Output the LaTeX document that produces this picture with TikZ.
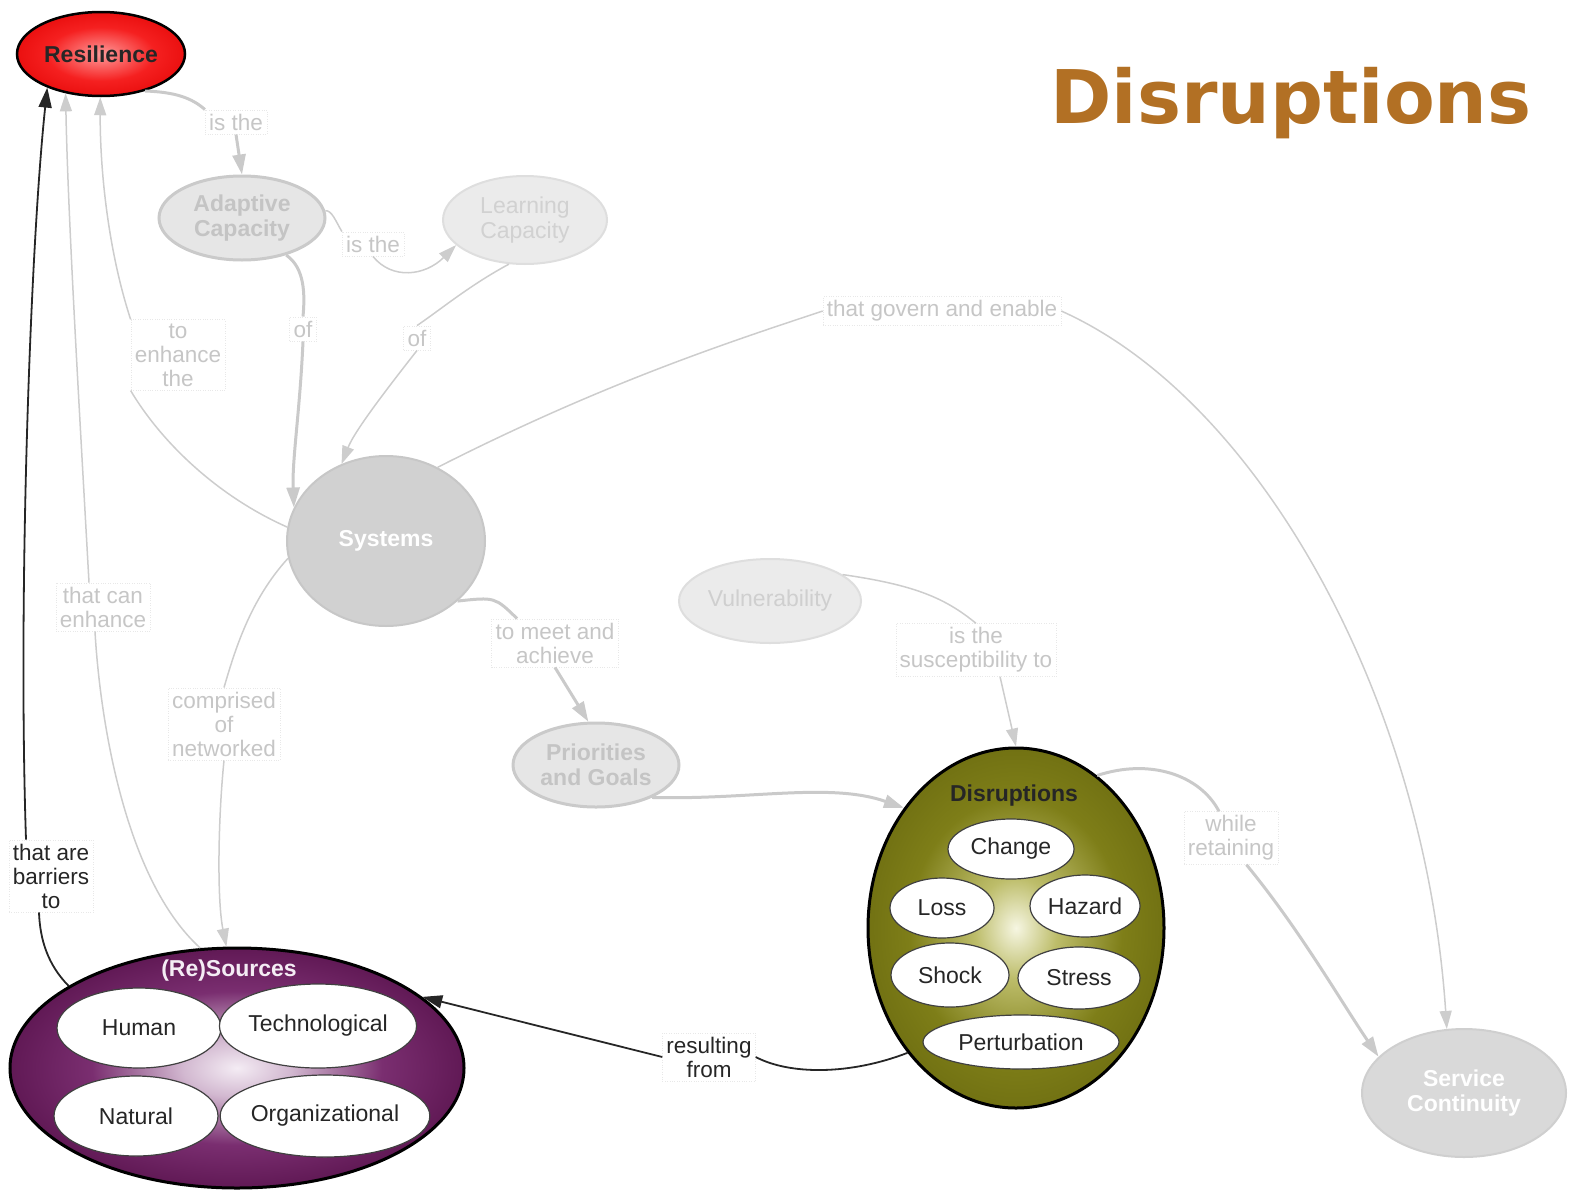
\documentclass[tikz,border=0pt]{standalone}
\usepackage{fontspec}
\setmainfont{Liberation Sans}
\newfontfamily\titlefont{DejaVu Sans}
\usetikzlibrary{arrows.meta,shapes.geometric}

\definecolor{linkgrey}{HTML}{C6C6C6}
\definecolor{linkline}{HTML}{CDCDCD}
\definecolor{ghostfill}{HTML}{E6E6E6}
\definecolor{ghostedge}{HTML}{CACACA}
\definecolor{ghosttext}{HTML}{C4C4C4}
\definecolor{titlecol}{HTML}{B27024}
% olive tones
\definecolor{oliveA}{HTML}{F6F6E2}
\definecolor{oliveB}{HTML}{BDBD6A}
\definecolor{oliveC}{HTML}{7E7E18}
\definecolor{oliveD}{HTML}{62620C}
\definecolor{oliveE}{HTML}{3C3C04}
% plum tones
\definecolor{plumA}{HTML}{F4ECF4}
\definecolor{plumB}{HTML}{D2B8D0}
\definecolor{plumC}{HTML}{7A2E70}
\definecolor{plumD}{HTML}{58124C}
\definecolor{plumE}{HTML}{4A0A40}
\definecolor{plumF}{HTML}{2C0426}
% red tones
\definecolor{redA}{HTML}{FF9A9A}
\definecolor{redB}{HTML}{F52020}
\definecolor{redC}{HTML}{E00000}
\definecolor{redD}{HTML}{8A0000}

% radial fills for the three highlighted concepts
\pgfdeclareradialshading{redglow}{\pgfpoint{0bp}{0bp}}{%
  color(0bp)=(redA); color(16bp)=(redB); color(34bp)=(redC);
  color(45bp)=(redC); color(50bp)=(redD)}
\pgfdeclareradialshading{oliveglow}{\pgfpoint{0bp}{0bp}}{%
  color(0bp)=(oliveA); color(7bp)=(oliveB); color(18bp)=(oliveC);
  color(34bp)=(oliveD); color(46bp)=(oliveD); color(50bp)=(oliveE)}
\pgfdeclareradialshading{plumglow}{\pgfpoint{0bp}{0bp}}{%
  color(0bp)=(plumA); color(6bp)=(plumB); color(16bp)=(plumC);
  color(28bp)=(plumD); color(44bp)=(plumE); color(50bp)=(plumF)}
\pgfdeclareradialshading{whiteoval}{\pgfpoint{0bp}{0bp}}{%
  color(0bp)=(white); color(34bp)=(white); color(50bp)=(black!12)}

\tikzset{
  concept/.style={ellipse, inner sep=0pt, align=center,
    font=\fontsize{23}{25}\selectfont\bfseries},
  ghost/.style={concept, fill=ghostfill, draw=ghostedge, line width=2pt, text=ghosttext},
  member/.style={ellipse, inner sep=0pt, draw=black!75, line width=1.2pt,
    shading=whiteoval, text=black!85, font=\fontsize{23}{25}\selectfont},
  linkbox/.style={draw=black!9, dotted, fill=white, inner sep=4pt, align=center,
    text=linkgrey, font=\fontsize{22.5}{24}\selectfont},
  darkbox/.style={linkbox, text=black!85},
  glink/.style={draw=linkline, line width=1.5pt},
  garrow/.style={glink, -{Triangle[length=18pt,width=12pt]}},
  thicklink/.style={draw=ghostedge, line width=3pt},
  thickarrow/.style={thicklink, -{Triangle[length=20pt,width=13pt]}},
  blink/.style={draw=black!85, line width=1.8pt},
  barrow/.style={blink, -{Triangle[length=20pt,width=13pt]}}
}

\begin{document}
\begin{tikzpicture}[x=1pt,y=-1pt]
\useasboundingbox (0,0) rectangle (1573,1194);

% title
\node[font=\titlefont\bfseries\fontsize{74}{80}\selectfont, text=titlecol] (title) at (1291,103) {Disruptions};

% concepts
\node[concept, minimum width=168, minimum height=84, shading=redglow, draw=black, line width=2.5pt, text=black!85] (res) at (101,54) {Resilience};
\node[ghost, minimum width=166, minimum height=84, line width=3pt] (ada) at (242,218) {Adaptive\\Capacity};
\node[ghost, minimum width=164, minimum height=88, fill=black!8, draw=black!13, text=black!18, font=\fontsize{23}{25}\selectfont] (lea) at (525,220) {Learning\\Capacity};
\node[ghost, minimum width=198, minimum height=170, fill=black!18, draw=black!22, text=white] (sys) at (386,541) {Systems};
\node[ghost, minimum width=182, minimum height=84, fill=black!8, draw=black!13, text=black!19, font=\fontsize{23}{25}\selectfont] (vul) at (770,601) {Vulnerability};
\node[ghost, minimum width=166, minimum height=84, line width=3pt] (pri) at (596,765) {Priorities\\and Goals};
\node[ghost, minimum width=204, minimum height=128, fill=black!15, draw=black!19, text=white] (svc) at (1464,1093) {Service\\Continuity};

% disruptions group
\node[concept, minimum width=296, minimum height=360, shading=oliveglow, draw=black, line width=3pt] (dis) at (1016,928) {};
\node[font=\fontsize{23}{25}\selectfont\bfseries, text=black!85] (distitle) at (1014,796) {Disruptions};
\node[member, minimum width=126, minimum height=60] (chg) at (1011,849) {Change};
\node[member, minimum width=104, minimum height=60] (los) at (942,908) {Loss};
\node[member, minimum width=110, minimum height=62] (haz) at (1085,906) {Hazard};
\node[member, minimum width=118, minimum height=64] (sho) at (950,975) {Shock};
\node[member, minimum width=122, minimum height=62] (str) at (1079,978) {Stress};
\node[member, minimum width=196, minimum height=54] (per) at (1021,1042) {Perturbation};

% resources group
\node[concept, minimum width=454, minimum height=240, shading=plumglow, draw=black, line width=3pt] (rsc) at (237,1068) {};
\node[font=\fontsize{23}{25}\selectfont\bfseries, text=plumA] (rsctitle) at (229,971) {(Re)Sources};
\node[member, minimum width=164, minimum height=80] (hum) at (139,1028) {Human};
\node[member, minimum width=186, minimum height=84] (tec) at (318,1026) {Technological};
\node[member, minimum width=164, minimum height=80] (nat) at (136,1116) {Natural};
\node[member, minimum width=196, minimum height=82] (org) at (325,1116) {Organizational};

% linking phrases
\node[linkbox] (l1) at (236,122) {is the};
\node[linkbox] (l2) at (373,244) {is the};
\node[linkbox] (l3) at (303,329) {of};
\node[linkbox] (l4) at (417,338) {of};
\node[linkbox] (l5) at (178,355) {to\\enhance\\the};
\node[linkbox] (l6) at (942,311) {that govern and enable};
\node[linkbox] (l7) at (103,607) {that can\\enhance};
\node[linkbox] (l8) at (224,724) {comprised\\of\\networked};
\node[linkbox] (l9) at (555,643) {to meet and\\achieve};
\node[linkbox] (l10) at (976,650) {is the\\susceptibility to};
\node[linkbox] (l11) at (1231,838) {while\\retaining};
\node[darkbox] (l12) at (51,876) {that are\\barriers\\to};
\node[darkbox] (l13) at (709,1057) {resulting\\from};

% Resilience -> Adaptive Capacity
\draw[thicklink] (res.-40) .. controls (175,92) and (192,98) .. (l1.north west);
\draw[thickarrow] (l1.south) -- (ada.north);
% Adaptive Capacity -> Learning Capacity
\draw[glink] (ada.5) .. controls (332,210) and (336,222) .. (l2.north west);
\draw[garrow] (l2.south) .. controls (392,280) and (425,276) .. (lea.200);
% capacities -> Systems
\draw[thicklink] (ada.-40) .. controls (305,268) and (305,295) .. (l3.north);
\draw[thickarrow] (l3.south) .. controls (300,410) and (292,460) .. (sys.160);
\draw[glink] (lea.-110) .. controls (470,285) and (440,310) .. (l4.north);
\draw[garrow] (l4.south) .. controls (390,385) and (355,430) .. (sys.120);
% Systems -> Resilience
\draw[glink] (sys.172) .. controls (215,495) and (160,440) .. (l5.south west);
\draw[garrow] (l5.north west) .. controls (108,250) and (100,170) .. (res.-91);
% Systems -> Service Continuity
\draw[glink] (sys.55) .. controls (600,385) and (720,345) .. (l6.west);
\draw[garrow] (l6.east) .. controls (1260,400) and (1425,700) .. (svc.105);
% Systems -> Priorities and Goals
\draw[thicklink] (sys.-40) .. controls (495,597) .. ([xshift=-38pt]l9.north);
\draw[thickarrow] (l9.south) -- (pri.100);
% Systems -> (Re)Sources
\draw[glink] (sys.190) .. controls (250,600) and (235,650) .. (l8.north);
\draw[garrow] (l8.south) .. controls (218,820) and (217,900) .. (rsc.95);
% (Re)Sources -> Resilience
\draw[glink] (rsc.107) .. controls (125,880) and (100,720) .. ([xshift=-8pt]l7.south);
\draw[garrow] ([xshift=-14pt]l7.north) .. controls (80,420) and (68,220) .. (res.-132);
\draw[blink] (rsc.154) .. controls (48,965) and (40,940) .. ([xshift=-12pt]l12.south);
\draw[barrow] ([xshift=-25pt]l12.north) .. controls (18,600) and (30,250) .. (res.-148);
% Priorities and Goals -> Disruptions
\draw[thickarrow] (pri.-30) .. controls (750,800) and (830,782) .. (dis.133);
% Vulnerability -> Disruptions
\draw[glink] (vul.20) .. controls (915,585) and (945,598) .. (l10.north);
\draw[garrow] (l10.-48) -- (dis.north);
% Disruptions -> Service Continuity
\draw[thicklink] (dis.62) .. controls (1150,758) and (1200,775) .. ([xshift=-12pt]l11.north);
\draw[thickarrow] (l11.-60) .. controls (1300,930) and (1340,1000) .. (svc.157);
% Disruptions -> (Re)Sources
\draw[blink] (dis.-131) .. controls (850,1075) and (790,1075) .. (l13.east);
\draw[barrow] (l13.west) -- (rsc.21);
\end{tikzpicture}
\end{document}
